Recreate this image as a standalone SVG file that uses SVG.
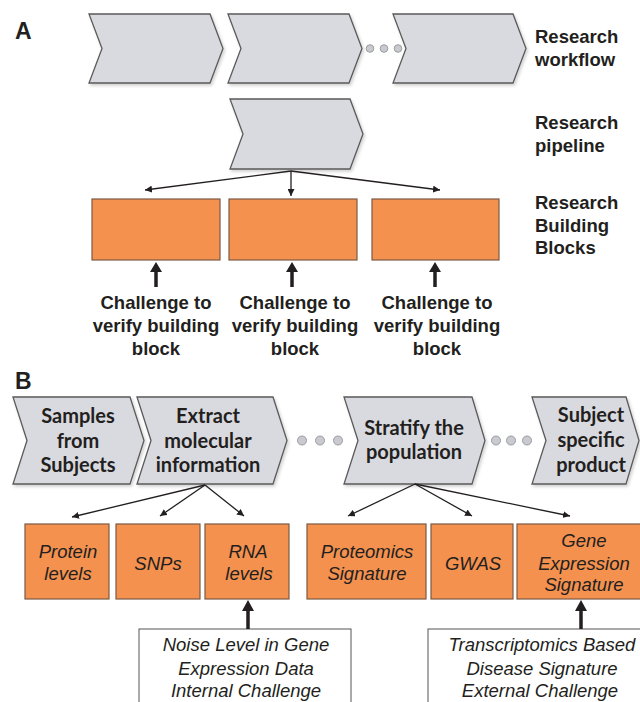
<svg xmlns="http://www.w3.org/2000/svg" width="640" height="702" viewBox="0 0 640 702">
<defs>
<style>
.chev{fill:#d9dadf;stroke:#5a5a5a;stroke-width:1.3;stroke-linejoin:miter;filter:url(#sh)}
.dotA{fill:#c8cacf;stroke:#9a9ca0;stroke-width:1}
.blk{fill:#f4914f;stroke:#7b5a45;stroke-width:1.2}
.lbl{font-family:"Liberation Sans",Arial,sans-serif;font-weight:bold;font-size:18.5px;fill:#231f20}
.big{font-family:"Liberation Sans",Arial,sans-serif;font-weight:bold;font-size:23px;fill:#231f20}
.cal{font-family:Lato,"Open Sans",sans-serif;font-weight:bold;font-size:20px;fill:#231f20;text-anchor:middle}
.it{font-family:"Liberation Sans",Arial,sans-serif;font-style:italic;font-size:18.5px;fill:#231f20;text-anchor:middle}
.mid{text-anchor:middle}
.thin{stroke:#231f20;stroke-width:1.3;fill:none;marker-end:url(#ah)}
.thick{stroke:#231f20;stroke-width:3.5;fill:none}
.head{fill:#231f20}
.chal{fill:#fff;stroke:#555;stroke-width:1}
</style>
<filter id="sh" x="-10%" y="-10%" width="130%" height="130%">
<feDropShadow dx="1.5" dy="2" stdDeviation="1.5" flood-color="#000" flood-opacity="0.18"/>
</filter>
<marker id="ah" viewBox="0 0 10 10" refX="10" refY="5" markerWidth="7" markerHeight="7" markerUnits="userSpaceOnUse" orient="auto">
<path d="M0,0 L10,5 L0,10 z" fill="#231f20"/>
</marker>
</defs>
<rect width="640" height="702" fill="#fff"/>

<text class="big" x="15" y="39">A</text>
<g id="workflow1"><polygon class="chev" points="89,14 210,14 223,48.5 210,83 89,83 102,48.5"/></g>
<g id="workflow2"><polygon class="chev" points="228,14 349,14 362,48.5 349,83 228,83 241,48.5"/></g>
<g id="dotsA">
<circle class="dotA" cx="370" cy="48.5" r="3.8"/>
<circle class="dotA" cx="384" cy="48.5" r="3.8"/>
<circle class="dotA" cx="398" cy="48.5" r="3.8"/>
</g>
<g id="workflow3"><polygon class="chev" points="393,14 513,14 526,48.5 513,83 393,83 406,48.5"/></g>
<g id="label-workflow"><text class="lbl" x="535" y="43">Research</text><text class="lbl" x="535" y="66">workflow</text></g>
<g id="pipeline"><polygon class="chev" points="230,99 350,99 363,134 350,169 230,169 243,134"/></g>
<g id="label-pipeline"><text class="lbl" x="535" y="129">Research</text><text class="lbl" x="535" y="152">pipeline</text></g>
<g id="label-blocks"><text class="lbl" x="535" y="209">Research</text><text class="lbl" x="535" y="232">Building</text><text class="lbl" x="535" y="254">Blocks</text></g>
<g id="blockA1"><rect class="blk" x="92" y="199" width="128" height="61"/></g>
<g id="blockA2"><rect class="blk" x="229" y="199" width="128" height="61"/></g>
<g id="blockA3"><rect class="blk" x="372" y="199" width="127" height="61"/></g>
<g id="challengeA1" class="lbl mid"><text x="156" y="309">Challenge to</text><text x="156" y="332">verify building</text><text x="156" y="355">block</text></g>
<g id="challengeA2" class="lbl mid"><text x="295" y="309">Challenge to</text><text x="295" y="332">verify building</text><text x="295" y="355">block</text></g>
<g id="challengeA3" class="lbl mid"><text x="437" y="309">Challenge to</text><text x="437" y="332">verify building</text><text x="437" y="355">block</text></g>

<text class="big" x="15" y="389">B</text>
<g id="samples"><polygon class="chev" points="13,397 130,397 144,440.5 130,484 13,484 27,440.5"/>
<text class="cal" x="78" y="423">Samples</text><text class="cal" x="78" y="448">from</text><text class="cal" x="78" y="472">Subjects</text></g>
<g id="extract"><polygon class="chev" points="137,397 273,397 287,440.5 273,484 137,484 151,440.5"/>
<text class="cal" x="208" y="423">Extract</text><text class="cal" x="208" y="448">molecular</text><text class="cal" x="208" y="472">information</text></g>
<g id="dotsB1">
<circle class="dotA" cx="302" cy="440.5" r="4.5"/><circle class="dotA" cx="320" cy="440.5" r="4.5"/><circle class="dotA" cx="338" cy="440.5" r="4.5"/>
</g>
<g id="stratify"><polygon class="chev" points="344,397 472,397 485,440.5 472,484 344,484 358,440.5"/>
<text class="cal" x="414" y="435">Stratify the</text><text class="cal" x="414" y="459">population</text></g>
<g id="dotsB2">
<circle class="dotA" cx="496" cy="440.5" r="4.5"/><circle class="dotA" cx="511" cy="440.5" r="4.5"/><circle class="dotA" cx="527" cy="440.5" r="4.5"/>
</g>
<g id="subject"><polygon class="chev" points="532,397 626,397 639,440.5 626,484 532,484 546,440.5"/>
<text class="cal" x="591" y="422">Subject</text><text class="cal" x="591" y="447">specific</text><text class="cal" x="591" y="472">product</text></g>

<g id="protein"><rect class="blk" x="25" y="524" width="84" height="75"/><text class="it" x="68" y="558">Protein</text><text class="it" x="68" y="580">levels</text></g>
<g id="snps"><rect class="blk" x="116" y="524" width="84" height="75"/><text class="it" x="158" y="570">SNPs</text></g>
<g id="rna"><rect class="blk" x="205" y="524" width="84" height="75"/><text class="it" x="248" y="558">RNA</text><text class="it" x="249" y="580">levels</text></g>
<g id="proteomics"><rect class="blk" x="307" y="524" width="119" height="75"/><text class="it" x="367" y="558">Proteomics</text><text class="it" x="367" y="580">Signature</text></g>
<g id="gwas"><rect class="blk" x="431" y="524" width="82" height="75"/><text class="it" x="473" y="570">GWAS</text></g>
<g id="gene"><rect class="blk" x="517" y="524" width="130" height="75"/><text class="it" x="584" y="547">Gene</text><text class="it" x="584" y="570">Expression</text><text class="it" x="584" y="591">Signature</text></g>

<g id="internal"><rect class="chal" x="139" y="629" width="212" height="80"/><text class="it" x="246" y="651">Noise Level in Gene</text><text class="it" x="246" y="675">Expression Data</text><text class="it" x="246" y="697">Internal Challenge</text></g>
<g id="external"><rect class="chal" x="428" y="629" width="222" height="80"/><text class="it" x="542" y="651">Transcriptomics Based</text><text class="it" x="542" y="675">Disease Signature</text><text class="it" x="540" y="697">External Challenge</text></g>

<g id="connectors">
<line class="thin" x1="291" y1="171" x2="145" y2="190"/>
<line class="thin" x1="291" y1="171" x2="291" y2="196"/>
<line class="thin" x1="291" y1="171" x2="440" y2="190"/>
<line class="thick" x1="156" y1="287" x2="156" y2="270"/><path class="head" d="M150,272 L162,272 L156,262 z"/>
<line class="thick" x1="292" y1="287" x2="292" y2="270"/><path class="head" d="M286,272 L298,272 L292,262 z"/>
<line class="thick" x1="435" y1="287" x2="435" y2="270"/><path class="head" d="M429,272 L441,272 L435,262 z"/>
<line class="thin" x1="205" y1="485" x2="72" y2="517"/>
<line class="thin" x1="205" y1="485" x2="160" y2="516"/>
<line class="thin" x1="205" y1="485" x2="244" y2="516"/>
<line class="thin" x1="415" y1="484" x2="348" y2="516"/>
<line class="thin" x1="415" y1="484" x2="472" y2="516"/>
<line class="thin" x1="415" y1="484" x2="570" y2="516"/>
<line class="thick" x1="248" y1="629" x2="248" y2="609"/><path class="head" d="M242,611 L254,611 L248,600 z"/>
<line class="thick" x1="581" y1="629" x2="581" y2="609"/><path class="head" d="M575,611 L587,611 L581,600 z"/>
</g>
</svg>
